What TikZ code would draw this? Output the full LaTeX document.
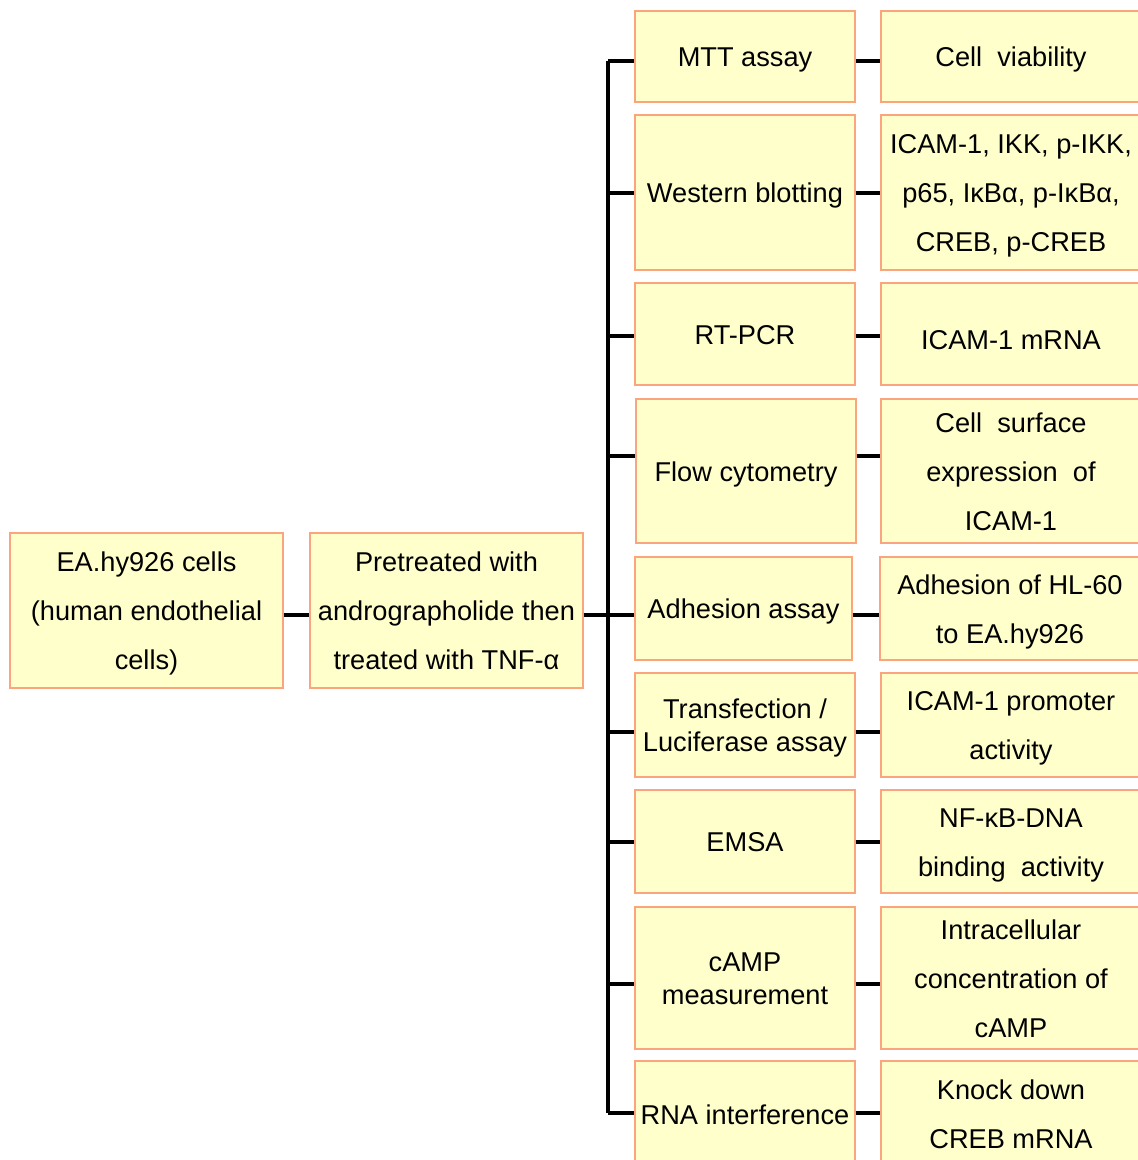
\documentclass[tikz,border=0pt]{standalone}
\usepackage{fontspec}
\setmainfont{Liberation Sans}
\definecolor{boxfill}{RGB}{255,255,204}
\definecolor{boxline}{RGB}{250,165,125}
\newcommand\lnstrut{\rule[-6pt]{0pt}{32pt}}
\newcommand\ts{\rule{0pt}{26pt}}
\begin{document}
\begin{tikzpicture}[x=1pt,y=-1pt,
  box/.style={draw=boxline, fill=boxfill, line width=1.4pt, inner sep=0pt, align=center,
    font=\fontsize{27.2}{49}\selectfont,
    execute at begin node=\lnstrut, execute at end node=\lnstrut},
  tight/.style={font=\fontsize{27.2}{33}\selectfont},
  conn/.style={line width=4pt, black},
  midbox/.style={box, minimum width=220pt},
  rightbox/.style={box, minimum width=260pt}]
\useasboundingbox (0,0) rectangle (1138,1160);
\clip (0,0) rectangle (1138,1160);
\fill[white] (0,0) rectangle (1138,1160);

% left boxes
\node[box, minimum width=273pt, minimum height=155pt] (ea) at (146.5,610.5) {\ts EA.hy926 cells\\(human endothelial\\cells)};
\node[box, minimum width=273pt, minimum height=155pt] (pt) at (446.5,610.5) {\ts Pretreated with\\andrographolide then\\treated with TNF-α};

% middle column
\node[midbox, minimum height=91pt]  (m1) at (745,56.5) {MTT assay};
\node[midbox, minimum height=155pt] (m2) at (745,192.5) {Western blotting};
\node[midbox, minimum height=102pt] (m3) at (745,334) {RT-PCR};
\node[midbox, minimum height=144pt] (m4) at (746,471) {Flow cytometry};
\node[midbox, minimum height=103pt, minimum width=217pt] (m5) at (743.5,608.5) {Adhesion assay};
\node[midbox, tight, minimum height=104pt] (m6) at (745,725) {\ts Transfection /\\Luciferase assay};
\node[midbox, minimum height=103pt] (m7) at (745,841.5) {EMSA};
\node[midbox, tight, minimum height=142pt] (m8) at (745,978) {\ts cAMP\\measurement};
\node[midbox, minimum height=106pt] (m9) at (745,1114) {RNA interference};

% right column
\node[rightbox, minimum height=91pt]  (r1) at (1011,56.5) {Cell\ \ viability};
\node[rightbox, minimum height=155pt] (r2) at (1011,192.5) {\ts ICAM-1, IKK, p-IKK,\\p65, IκBα, p-IκBα,\\CREB, p-CREB};
\node[rightbox, minimum height=102pt] (r3) at (1011,334) {\raisebox{-5.5pt}{ICAM-1 mRNA}};
\node[rightbox, minimum height=144pt] (r4) at (1011,471) {\ts Cell\ \ surface\\expression\ \ of\\ICAM-1};
\node[rightbox, minimum height=103pt] (r5) at (1010,608.5) {\ts Adhesion of HL-60\\to EA.hy926};
\node[rightbox, minimum height=104pt] (r6) at (1011,725) {\ts ICAM-1 promoter\\activity};
\node[rightbox, minimum height=103pt] (r7) at (1011,841.5) {\ts NF-κB-DNA\\binding\ \ activity};
\node[rightbox, minimum height=142pt] (r8) at (1011,978) {\ts Intracellular\\concentration of\\cAMP};
\node[rightbox, minimum height=106pt] (r9) at (1011,1114) {\ts Knock down\\CREB mRNA};

% bus coordinates
\coordinate (b1) at (608,61);
\coordinate (b2) at (608,193);
\coordinate (b3) at (608,336);
\coordinate (b4) at (608,456);
\coordinate (b5) at (608,615);
\coordinate (b6) at (608,732);
\coordinate (b7) at (608,842);
\coordinate (b8) at (608,984);
\coordinate (b9) at (608,1113);

% connectors
\draw[conn] (ea.east |- b5) -- (pt.west |- b5);
\draw[conn] (pt.east |- b5) -- (b5);
\draw[conn, line cap=rect] ([yshift=-2pt]b1) -- ([yshift=2pt]b9);
\foreach \i in {1,...,9} {
  \draw[conn] (b\i) -- (b\i -| m\i.west);
  \draw[conn] (m\i.east |- b\i) -- (r\i.west |- b\i);
}
\end{tikzpicture}
\end{document}
